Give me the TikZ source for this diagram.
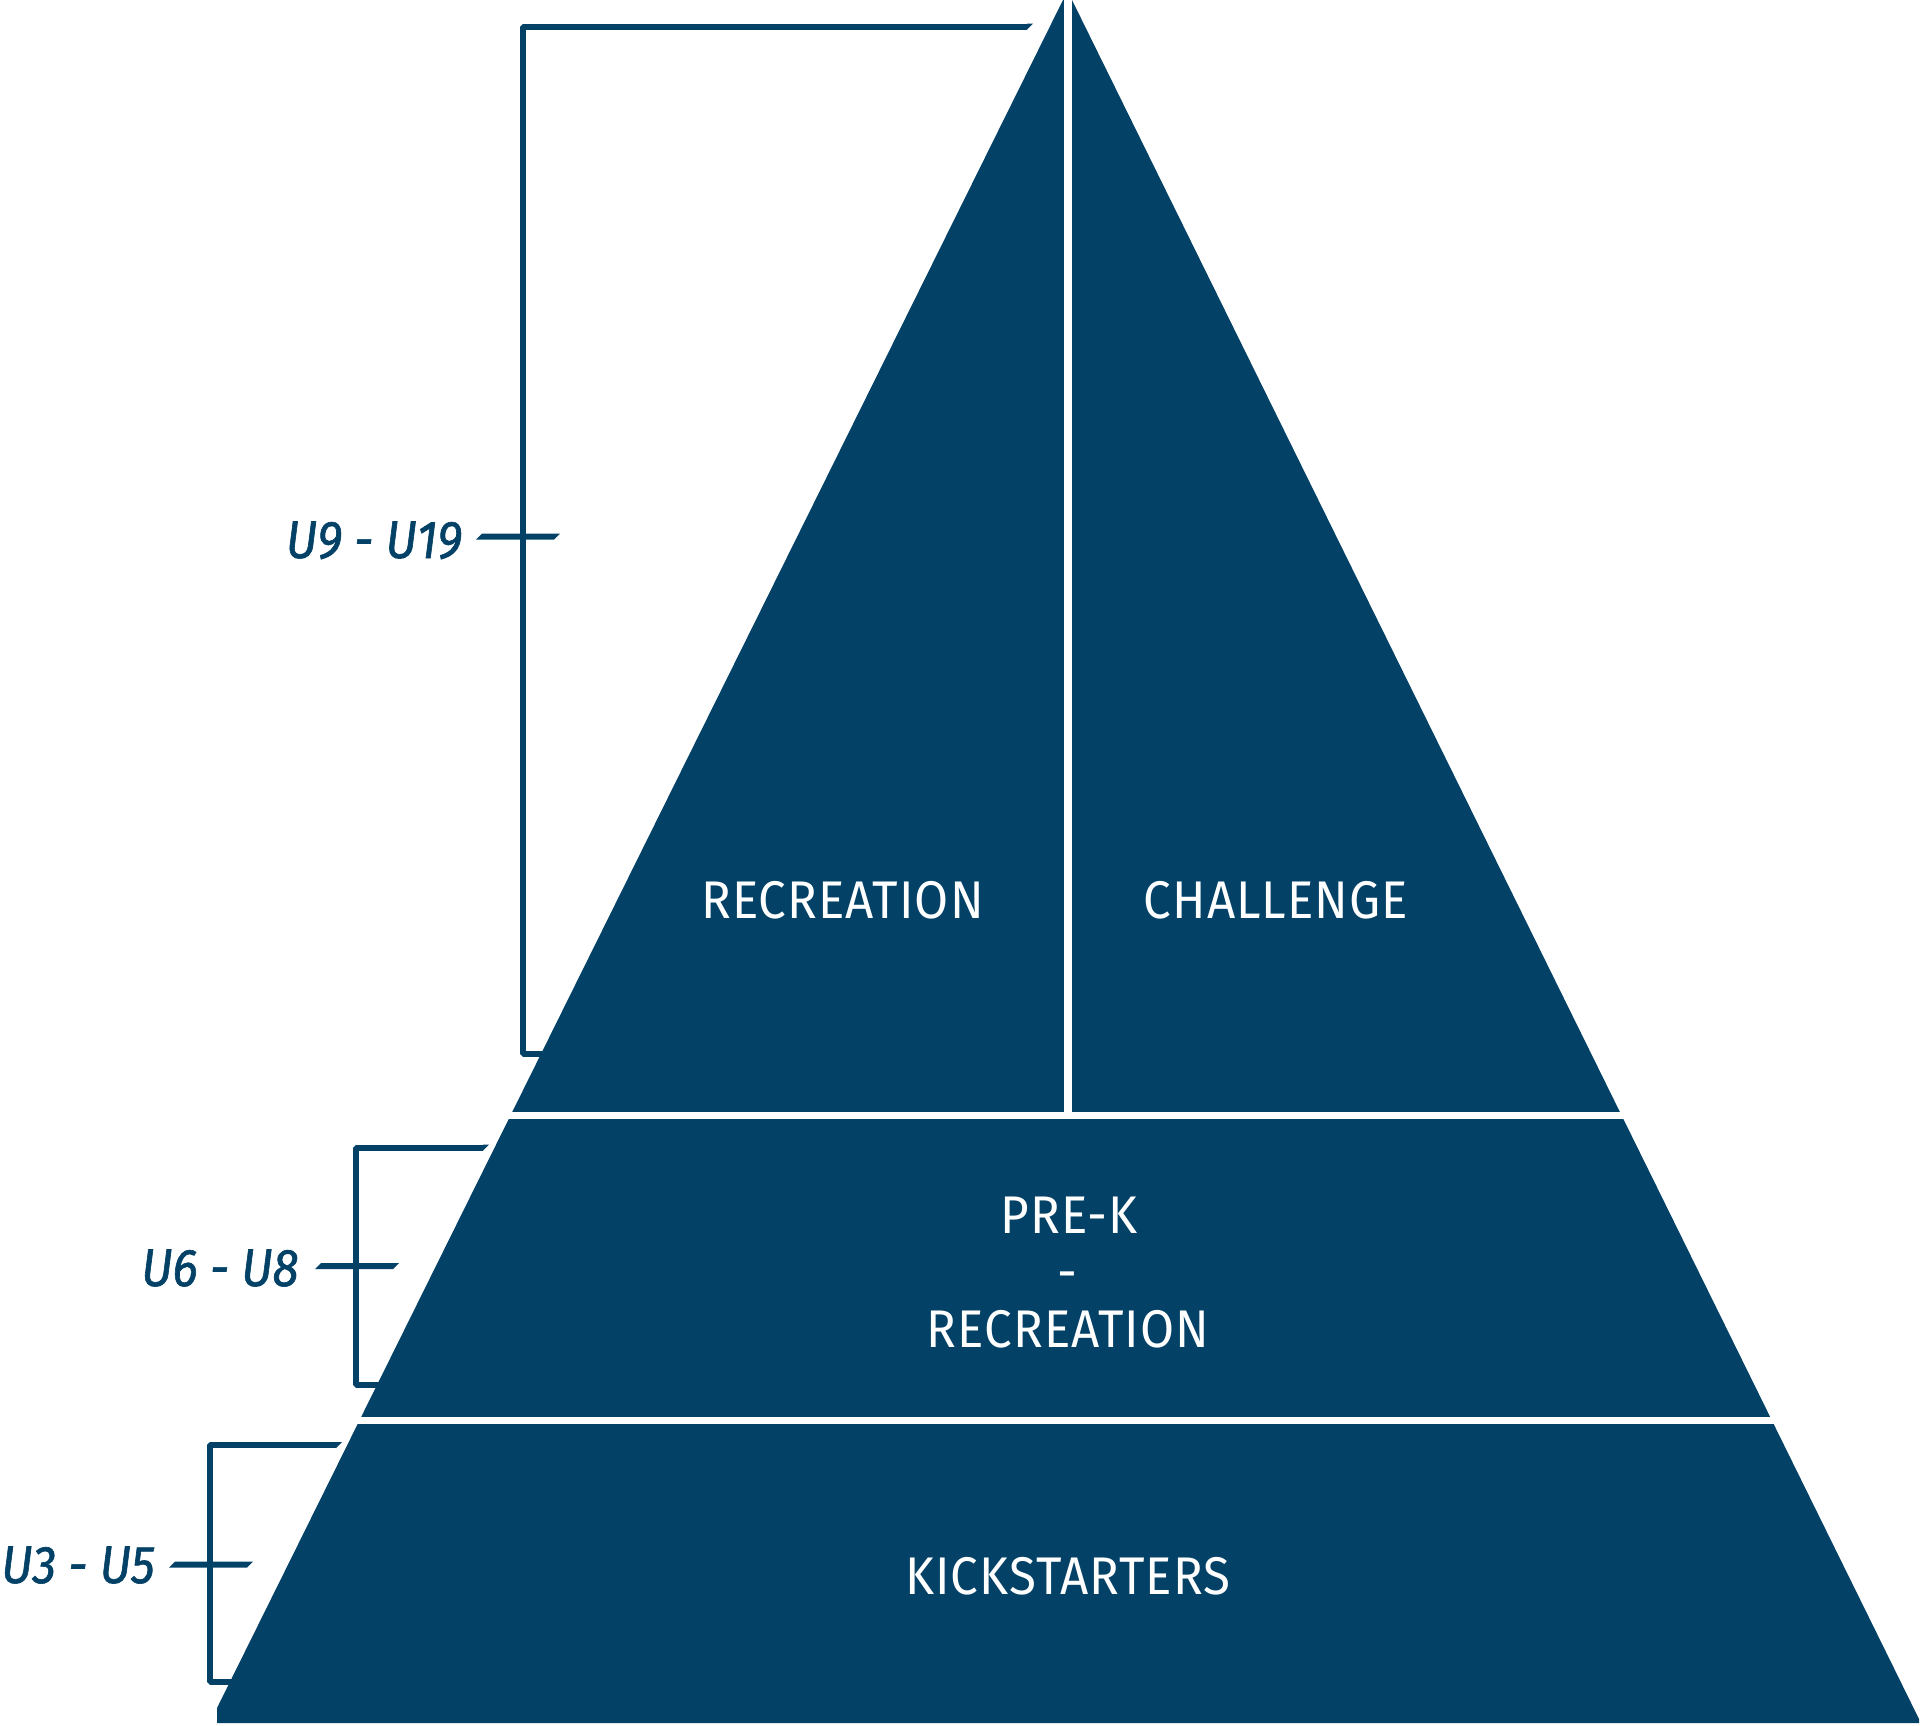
\documentclass[tikz,border=0pt]{standalone}
\usepackage{fontspec}
\setmainfont{Fira Sans}
\newfontfamily\pyrfont{Fira Sans}[FakeStretch=0.93,LetterSpace=2]
\newfontfamily\labfont{Fira Sans}[FakeStretch=0.9,FakeBold=1.2]
\definecolor{navy}{HTML}{034166}
\tikzset{
  pyr/.style={fill=navy},
  gap/.style={fill=white},
  brk/.style={draw=navy,line width=6pt,line join=bevel,line cap=butt},
  brkfill/.style={fill=navy},
  wtext/.style={inner sep=0pt,anchor=base,text=white,font=\pyrfont\fontsize{53}{60}\selectfont},
  ltext/.style={inner sep=0pt,anchor=base,text=navy,font=\labfont\itshape\fontsize{53}{60}\selectfont}
}
\begin{document}
\begin{tikzpicture}[x=1pt,y=-1pt]
\useasboundingbox (0,0) rectangle (1920,1725);
% pyramid
\fill[pyr] (1063,0) -- (1072,0) -- (1919,1719) -- (1919,1723) -- (217,1723) -- (217,1708) -- cycle;
% white gaps
\fill[gap] (1063.5,-1) rectangle (1071.5,1116);
\fill[gap] (420,1112) rectangle (1720,1119);
\fill[gap] (300,1417) rectangle (1850,1424);
% texts
\node[wtext] (rec) at (842.5,918) {RECREATION};
\node[wtext] (cha) at (1276,918) {CHALLENGE};
\node[wtext] (prek) at (1069,1233) {PRE-K};
\node[wtext] (dash) at (1067,1290) {-};
\node[wtext] (rec2) at (1068,1347) {RECREATION};
\node[wtext] (kick) at (1068,1594) {KICKSTARTERS};
% labels
\node[ltext] (l1) at (374,558) {U9 - U19};
\node[ltext] (l2) at (220,1286) {U6 - U8};
\node[ltext] (l3) at (78,1583) {U3 - U5};
% bracket 1
\coordinate (b1t) at (1027,26.5);
\coordinate (b1c) at (522.5,26.5);
\coordinate (b1d) at (522.5,1053.5);
\coordinate (b1e) at (548,1053.5);
\draw[brk] (b1t) -- (b1c) -- (b1d) -- (b1e);
\fill[brkfill] (1027,23.5) -- (1033,23.5) -- (1027,29.5) -- cycle;
\fill[brkfill] (476,539.5) -- (482,533.5) -- (560,533.5) -- (554,539.5) -- cycle;
% bracket 2
\coordinate (b2t) at (483,1147.5);
\coordinate (b2c) at (355.5,1147.5);
\coordinate (b2d) at (355.5,1384.5);
\coordinate (b2e) at (385,1384.5);
\draw[brk] (b2t) -- (b2c) -- (b2d) -- (b2e);
\fill[brkfill] (483,1144.5) -- (489,1144.5) -- (483,1150.5) -- cycle;
\fill[brkfill] (315,1269) -- (321,1263) -- (399,1263) -- (393,1269) -- cycle;
% bracket 3
\coordinate (b3t) at (336,1445);
\coordinate (b3c) at (209.5,1445);
\coordinate (b3d) at (209.5,1682);
\coordinate (b3e) at (238,1682);
\draw[brk] (b3t) -- (b3c) -- (b3d) -- (b3e);
\fill[brkfill] (336,1442) -- (342,1442) -- (336,1448) -- cycle;
\fill[brkfill] (169,1567.5) -- (175,1561.5) -- (253,1561.5) -- (247,1567.5) -- cycle;
\end{tikzpicture}
\end{document}
